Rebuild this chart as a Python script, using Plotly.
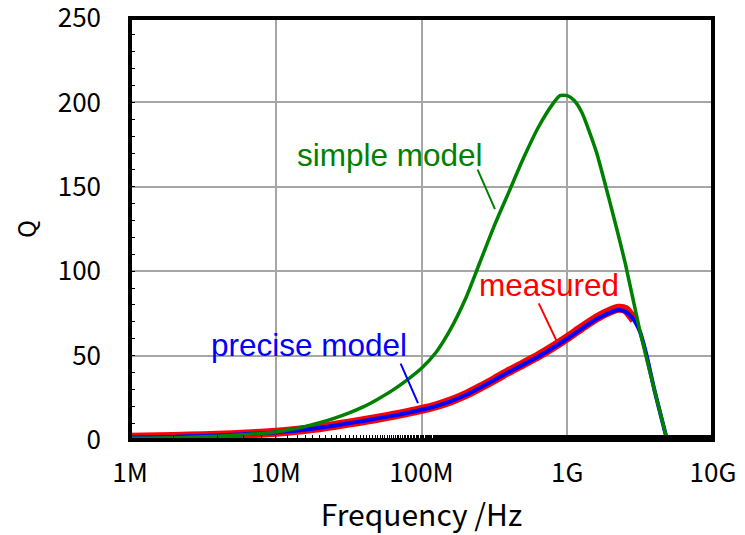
import plotly.graph_objects as go

freq_simple = [1.0e6, 1.58e6, 2.51e6, 3.98e6, 6.31e6, 1.0e7, 1.26e7, 1.58e7, 2.0e7, 2.51e7,
               3.16e7, 3.98e7, 5.01e7, 6.31e7, 7.94e7, 1.0e8, 1.26e8, 1.58e8, 2.0e8, 2.51e8,
               3.16e8, 3.98e8, 5.01e8, 6.31e8, 7.94e8, 8.91e8, 1.0e9, 1.12e9, 1.26e9, 1.58e9,
               2.0e9, 2.51e9, 3.16e9, 3.98e9, 4.84e9]
q_simple = [1.0, 1.2, 1.6, 2.2, 3.2, 4.8, 6.2, 7.9, 10.2, 12.8,
            15.9, 19.6, 24.2, 29.4, 35.5, 42.5, 52.0, 65.5, 83.5, 105.0,
            127.0, 147.0, 167.0, 185.0, 199.0, 204.0, 204.0, 201.0, 194.0, 171.0,
            138.0, 104.0, 64.0, 29.0, 0.0]

freq_precise = [1.0e6, 1.58e6, 2.51e6, 3.98e6, 6.31e6, 1.0e7, 1.26e7, 1.58e7, 2.0e7, 2.51e7,
                3.16e7, 3.98e7, 5.01e7, 6.31e7, 7.94e7, 1.0e8, 1.26e8, 1.58e8, 2.0e8, 2.51e8,
                3.16e8, 3.98e8, 5.01e8, 6.31e8, 7.94e8, 1.0e9, 1.26e9, 1.58e9, 2.0e9, 2.24e9,
                2.51e9, 2.82e9, 3.16e9, 3.47e9, 3.98e9, 4.84e9]
q_precise = [1.5, 1.8, 2.2, 2.7, 3.5, 4.5, 5.2, 6.1, 7.2, 8.5,
             9.9, 11.3, 12.8, 14.3, 16.0, 17.9, 20.1, 22.9, 26.5, 30.8,
             35.5, 40.3, 44.8, 49.3, 54.5, 60.0, 66.0, 71.5, 75.8, 77.0,
             76.0, 72.0, 64.0, 51.5, 29.0, 0.0]

freq_measured = [1.0e6, 1.58e6, 2.51e6, 3.98e6, 6.31e6, 1.0e7, 1.26e7, 1.58e7, 2.0e7, 2.51e7,
                 3.16e7, 3.98e7, 5.01e7, 6.31e7, 7.94e7, 1.0e8, 1.26e8, 1.58e8, 2.0e8, 2.51e8,
                 3.16e8, 3.98e8, 5.01e8, 6.31e8, 7.94e8, 1.0e9, 1.26e9, 1.58e9, 2.0e9, 2.24e9,
                 2.51e9, 2.88e9]
q_measured = [1.6, 1.9, 2.3, 2.8, 3.6, 4.6, 5.3, 6.2, 7.3, 8.6,
              10.0, 11.4, 12.9, 14.5, 16.2, 18.1, 20.3, 23.1, 26.8, 31.1,
              35.8, 40.7, 45.2, 49.8, 55.0, 60.6, 66.6, 72.2, 76.6, 78.0,
              77.3, 71.0]

x_tickvals = [1e6, 1e7, 1e8, 1e9, 1e10]
x_ticktext = ["1M", "10M", "100M", "1G", "10G"]
y_tickvals = [0, 50, 100, 150, 200, 250]

GREEN = "rgb(0,128,0)"
BLUE = "rgb(0,0,255)"
RED = "rgb(255,0,0)"

fig = go.Figure()
fig.add_trace(go.Scatter(x=freq_measured, y=q_measured, mode="lines",
                         line=dict(color=RED, width=9, shape="spline", smoothing=0.6),
                         name="measured"))
fig.add_trace(go.Scatter(x=freq_precise, y=q_precise, mode="lines",
                         line=dict(color=BLUE, width=4, shape="spline", smoothing=0.6),
                         name="precise model"))
fig.add_trace(go.Scatter(x=freq_simple, y=q_simple, mode="lines",
                         line=dict(color=GREEN, width=3.5, shape="spline", smoothing=0.6),
                         name="simple model"))

tick_font = dict(family="Noto Sans CJK JP", size=26, color="black")
label_font = dict(family="Liberation Sans", size=31.5)

# the page adds an 8px body margin, so the figure is sized 737x527
fig.update_layout(
    width=737, height=527,
    margin=dict(l=122, r=32, t=10, b=95),
    paper_bgcolor="white", plot_bgcolor="white",
    showlegend=False,
    xaxis=dict(
        type="log", range=[6, 10], automargin=False,
        tickvals=x_tickvals, ticktext=x_ticktext,
        tickfont=tick_font, ticklabeloverflow="allow",
        showgrid=True, gridcolor="#a6a6a6", gridwidth=1.5,
        showline=False,
        ticks="inside", ticklen=5, tickcolor="black",
        minor=dict(ticks="inside", ticklen=5, tickcolor="black", showgrid=False),
        ticklabelstandoff=15,
        zeroline=False,
        title=dict(text="Frequency /Hz", font=dict(family="Noto Sans CJK JP", size=30, color="black"),
                   standoff=19),
    ),
    yaxis=dict(
        range=[0, 250], automargin=False,
        tickvals=y_tickvals,
        tickfont=tick_font, ticklabeloverflow="allow",
        showgrid=True, gridcolor="#a6a6a6", gridwidth=1.5,
        showline=False,
        ticks="inside", ticklen=5, tickcolor="black",
        minor=dict(ticks="inside", ticklen=5, tickcolor="black", dtick=10, showgrid=False),
        ticklabelstandoff=28,
        zeroline=False,
        title=dict(text="Q", font=dict(family="Noto Sans CJK JP", size=24, color="black"),
                   standoff=25),
    ),
)

# plot frame
fig.add_shape(type="rect", xref="paper", yref="paper", x0=0, x1=1, y0=0, y1=1,
              line=dict(color="black", width=4), layer="above")

annotations = [
    dict(x=7.784, y=168.8, text="simple model", color=GREEN),
    dict(x=7.225, y=56.3, text="precise model", color=BLUE),
    dict(x=8.875, y=91.8, text="measured", color=RED),
]
for a in annotations:
    fig.add_annotation(x=a["x"], y=a["y"], xref="x", yref="y", text=a["text"],
                       showarrow=False, xanchor="center", yanchor="middle",
                       font=dict(family=label_font["family"], size=label_font["size"], color=a["color"]))

pointers = [
    dict(x=8.504, y=136.8, ax=-18, ay=-41, color=GREEN),
    dict(x=7.976, y=21.9, ax=-18, ay=-41, color=BLUE),
    dict(x=8.93, y=58.1, ax=-19, ay=-40, color=RED),
]
for p in pointers:
    fig.add_annotation(x=p["x"], y=p["y"], xref="x", yref="y", text="",
                       showarrow=True, arrowhead=0, arrowwidth=2, arrowcolor=p["color"],
                       ax=p["ax"], ay=p["ay"], standoff=0, startstandoff=0)

fig.write_html("out.html")
